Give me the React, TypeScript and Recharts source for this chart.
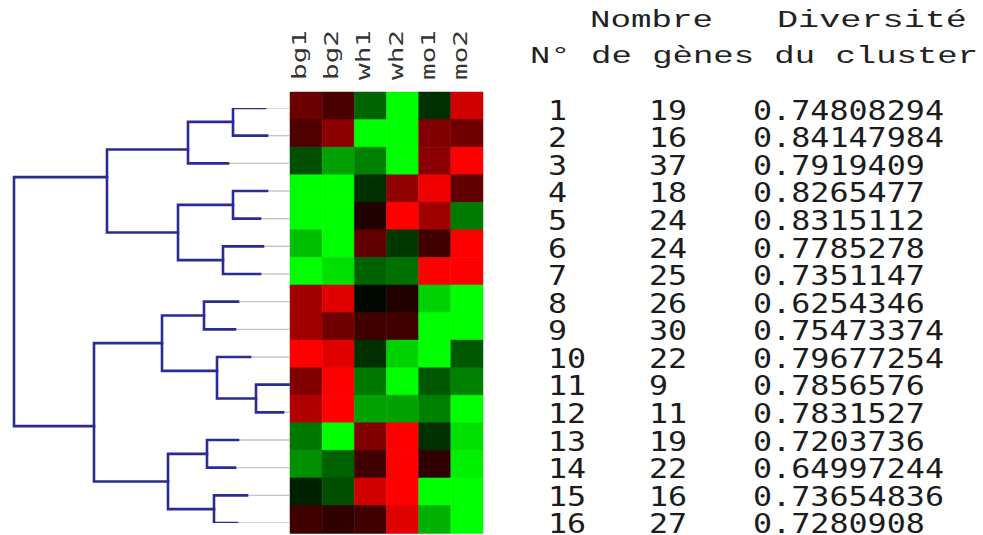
import React from "react";
import {
  BarChart, Bar, Cell, XAxis, YAxis, ScatterChart, Scatter, Customized,
} from "recharts";

// clusters
const clusterIds = [1, 2, 3, 4, 5, 6, 7, 8, 9, 10, 11, 12, 13, 14, 15, 16];
const geneCounts = [19, 16, 37, 18, 24, 24, 25, 26, 30, 22, 9, 11, 19, 22, 16, 27];
const diversity = [
  0.74808294, 0.84147984, 0.7919409, 0.8265477, 0.8315112, 0.7785278, 0.7351147, 0.6254346,
  0.75473374, 0.79677254, 0.7856576, 0.7831527, 0.7203736, 0.64997244, 0.73654836, 0.7280908,
];

// heatmap values (+ = red, - = green)
const columns = ["bg1", "bg2", "wh1", "wh2", "mo1", "mo2"];
const bg1 = [0.42, 0.31, -0.31, -1, -1, -0.75, -1, 0.63, 0.63, 1, 0.5, 0.69, -0.47, -0.56, -0.13, 0.25];
const bg2 = [0.29, 0.54, -0.63, -1, -1, -1, -0.88, 0.88, 0.44, 0.88, 1, 1, -1, -0.38, -0.31, 0.19];
const wh1 = [-0.39, -1, -0.5, -0.19, 0.13, 0.38, -0.38, -0.03, 0.25, -0.19, -0.47, -0.63, 0.5, 0.25, 0.82, 0.25];
const wh2 = [-1, -1, -1, 0.56, 1, -0.22, -0.44, 0.13, 0.25, -0.82, -1, -0.63, 1, 1, 1, 0.88];
const mo1 = [-0.19, 0.5, 0.54, 0.94, 0.63, 0.25, 1, -0.82, -1, -1, -0.35, -0.5, -0.19, 0.19, -1, -0.69];
const mo2 = [0.82, 0.44, 1, 0.38, -0.48, 1, 1, -1, -1, -0.35, -0.5, -1, -0.88, -0.94, -1, -1];
const heat = [bg1, bg2, wh1, wh2, mo1, mo2];

// dendrogram: leaf branch ends and merge nodes (height, row position)
const leafEnd = [2.5, 2.3, 6.2, 2.3, 3.0, 2.7, 3.0, 5.2, 5.5, 4.0, 0, 0.7, 5.2, 5.5, 4.3, 5.3];
const nodeNames = ["n12", "A", "n45", "n67", "B", "top", "n89", "n1112", "n1012", "C", "n1314", "n1516", "D", "bottom", "root"];
const nodeLeft = ["1", "n12", "4", "6", "n45", "A", "8", "11", "10", "n89", "13", "15", "n1314", "C", "top"];
const nodeRight = ["2", "3", "5", "7", "n67", "B", "9", "12", "n1112", "n1012", "14", "16", "n1516", "D", "bottom"];
const nodeHeight = [5.7, 10.2, 5.7, 6.7, 11.2, 18.3, 8.6, 3.4, 7.3, 12.8, 8.3, 7.6, 12.2, 19.6, 27.6];
const nodeRow = [1.5, 2.5, 4.5, 6.5, 5.5, 3.5, 8.5, 11.5, 10.5, 9.5, 13.5, 15.5, 14.5, 12.5, 8];

const BLUE = "#2b2b94";
const GRAY = "#c4c4c4";

const heatColor = (v: number) =>
  v >= 0 ? `rgb(${Math.round(255 * v)},0,0)` : `rgb(0,${Math.round(-255 * v)},0)`;

const rows = clusterIds.map((id) => {
  const r: any = { row: id };
  columns.forEach((c) => (r[c] = 1));
  return r;
});

// branches as a path per merge: left child -> node height -> right child
function buildBranches() {
  const pos: Record<string, { h: number; y: number }> = {};
  clusterIds.forEach((id, i) => (pos[String(id)] = { h: leafEnd[i], y: id }));
  nodeNames.forEach((n, i) => (pos[n] = { h: nodeHeight[i], y: nodeRow[i] }));
  const out: { pts: { x: number; y: number }[]; c: string }[] = [];
  clusterIds.forEach((id, i) => {
    if (leafEnd[i] > 0) out.push({ pts: [{ x: 0, y: id }, { x: leafEnd[i], y: id }], c: GRAY });
  });
  nodeNames.forEach((n, i) => {
    const a = pos[nodeLeft[i]];
    const b = pos[nodeRight[i]];
    const h = nodeHeight[i];
    out.push({
      pts: [{ x: a.h, y: a.y }, { x: h, y: a.y }, { x: h, y: b.y }, { x: b.h, y: b.y }],
      c: BLUE,
    });
  });
  return out;
}
const branches = buildBranches();

const ColumnTick = ({ x, payload }: any) => {
  const name = columns[Math.floor(payload.value)];
  return (
    <text
      transform={`translate(${x - 7},80) rotate(-90)`}
      textAnchor="start"
      dominantBaseline="central"
      fontFamily="DejaVu Sans Mono"
      fontSize={19}
      fill="#333"
      textLength={50}
      lengthAdjust="spacingAndGlyphs"
    >
      {name}
    </text>
  );
};

const CHAR = 19.1;
const TableTick = ({ y, index }: any) => {
  const cells = [
    { x: 548, s: String(clusterIds[index]) },
    { x: 649, s: String(geneCounts[index]) },
    { x: 753, s: String(diversity[index]) },
  ];
  return (
    <g>
      {cells.map((c, k) => (
        <text
          key={k}
          x={c.x}
          y={y + 14}
          fontFamily="DejaVu Sans Mono"
          fontSize={27}
          fill="#1c1c1c"
          textLength={c.s.length * CHAR}
          lengthAdjust="spacingAndGlyphs"
        >
          {c.s}
        </text>
      ))}
    </g>
  );
};

const Header = () => {
  const style = { fontFamily: "Liberation Mono", fontSize: 23, fill: "#222" };
  return (
    <g>
      <text x={590} y={27} {...style} textLength={123} lengthAdjust="spacingAndGlyphs">Nombre</text>
      <text x={777} y={27} {...style} textLength={190} lengthAdjust="spacingAndGlyphs">Diversité</text>
      <text x={530} y={63} {...style} textLength={448} lengthAdjust="spacingAndGlyphs">N° de gènes du cluster</text>
    </g>
  );
};

const NoDot = () => <g />;

export default function App() {
  return (
    <div style={{ position: "absolute", left: 0, top: 0, width: 983, height: 535, background: "#fff" }}>
      <div style={{ position: "absolute", left: 0, top: 0 }}>
        <BarChart
          width={983}
          height={535}
          data={rows}
          layout="vertical"
          margin={{ top: 0, right: 0, bottom: 2, left: 290 }}
          barCategoryGap={0}
          barGap={0}
        >
          <XAxis
            type="number"
            domain={[0, 6]}
            ticks={columns.map((_, i) => i + 0.5)}
            orientation="top"
            height={92}
            axisLine={false}
            tickLine={false}
            interval={0}
            tick={<ColumnTick />}
          />
          <YAxis
            type="category"
            dataKey="row"
            orientation="right"
            width={500}
            axisLine={false}
            tickLine={false}
            interval={0}
            tick={<TableTick />}
          />
          {columns.map((c, ci) => (
            <Bar key={c} dataKey={c} stackId="h" isAnimationActive={false}>
              {rows.map((_, ri) => (
                <Cell key={ri} fill={heatColor(heat[ci][ri])} stroke={heatColor(heat[ci][ri])} strokeWidth={0.5} />
              ))}
            </Bar>
          ))}
          <Customized component={Header} />
        </BarChart>
      </div>
      <div style={{ position: "absolute", left: 0, top: 0 }}>
        <ScatterChart width={292} height={535} margin={{ top: 108, right: 2, bottom: 12, left: 0 }}>
          <XAxis type="number" dataKey="x" domain={[0, 29]} reversed hide allowDataOverflow />
          <YAxis type="number" dataKey="y" domain={[1, 16]} reversed hide allowDataOverflow />
          {branches.map((b, i) => (
            <Scatter
              key={i}
              data={b.pts}
              line={{ stroke: b.c, strokeWidth: b.c === BLUE ? 2.6 : 1.4, strokeLinecap: "square", strokeLinejoin: "miter" }}
              shape={<NoDot />}
              isAnimationActive={false}
            />
          ))}
        </ScatterChart>
      </div>
    </div>
  );
}
